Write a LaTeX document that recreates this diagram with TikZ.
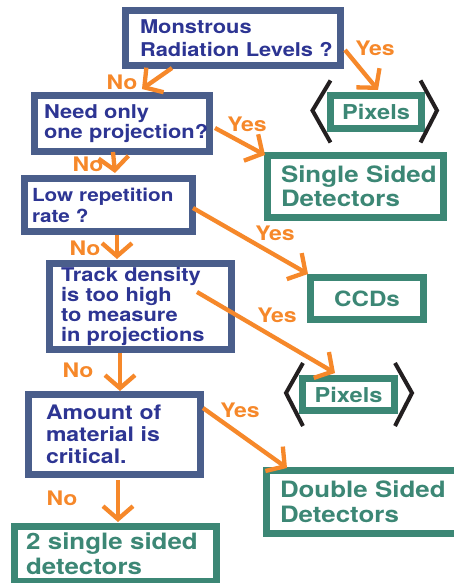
\documentclass[tikz,border=0pt]{standalone}
\usepackage{fontspec}
\usepackage{xcolor}
\usepackage{tikz}
\usetikzlibrary{arrows.meta,calc}
\newfontfamily\chartfont{TeX Gyre Heros}[FakeStretch=1.15]
\definecolor{qblue}{HTML}{4A5E8B}
\definecolor{qtext}{HTML}{2D3593}
\definecolor{agreen}{HTML}{3C8775}
\definecolor{yorange}{HTML}{F6882A}
\definecolor{brk}{HTML}{231F20}

\begin{document}
\lefthyphenmin=62 \righthyphenmin=62 \hyphenpenalty=10000
\begin{tikzpicture}[x=1pt, y=-1pt,
  question/.style={rectangle, draw=qblue, line width=7pt, fill=white, inner sep=0pt, outer sep=0pt, align=left, text=qtext},
  answer/.style={rectangle, draw=agreen, line width=7pt, fill=white, inner sep=0pt, outer sep=0pt, align=left, text=agreen},
  flow/.style={draw=yorange, line width=4.3pt, -{Straight Barb[length=13pt, width=30pt]}},
  reply/.style={text=yorange, inner sep=0pt, font=\chartfont\bfseries\fontsize{20}{22}\selectfont},
  bracket/.style={draw=brk, line width=4pt, line join=miter}]
\fill[white] (0,0) rectangle (453,583);
\useasboundingbox (0,0) rectangle (453,583);
% questions
\node[question, minimum width=215pt, minimum height=55pt, text width=186pt, font=\chartfont\bfseries\fontsize{19}{22.7}\selectfont] (mon) at (233,38) {Monstrous\\Radiation~Levels~?};
\node[question, minimum width=175pt, minimum height=56pt, text width=156pt, font=\chartfont\bfseries\fontsize{19}{19.5}\selectfont] (need) at (122,123.5) {Need~only\\one~projection?};
\node[question, minimum width=168pt, minimum height=53pt, text width=153pt, font=\chartfont\bfseries\fontsize{18}{21}\selectfont] (lowrep) at (108.5,205) {Low~repetition\\rate~?};
\node[question, minimum width=182pt, minimum height=86pt, text width=159pt, font=\chartfont\bfseries\fontsize{19}{20}\selectfont] (track) at (140.5,306.5) {Track~density\\is~too~high\\to~measure\\in~projections};
\node[question, minimum width=172pt, minimum height=80pt, text width=137pt, font=\chartfont\bfseries\fontsize{20}{22}\selectfont] (amount) at (114.5,434.5) {Amount~of\\material~is\\critical.};
% answers
\node[answer, minimum width=91pt, minimum height=33pt, align=center, font=\chartfont\bfseries\fontsize{20.5}{22}\selectfont] (pixA) at (376,112) {Pixels};
\node[answer, minimum width=176pt, minimum height=62pt, text width=149pt, font=\chartfont\bfseries\fontsize{22.5}{24}\selectfont] (single) at (355.5,186.5) {Single~Sided\\Detectors};
\node[answer, minimum width=113pt, minimum height=42pt, align=center, font=\chartfont\bfseries\fontsize{21}{22}\selectfont] (ccd) at (367,298.5) {CCDs};
\node[answer, minimum width=92pt, minimum height=32pt, align=center, font=\chartfont\bfseries\fontsize{20.5}{22}\selectfont] (pixB) at (348.5,394.5) {Pixels};
\node[answer, minimum width=213.5pt, minimum height=63pt, text width=186.5pt, font=\chartfont\bfseries\fontsize{22.5}{25}\selectfont] (double) at (373.25,502) {Double~Sided\\Detectors};
\node[answer, minimum width=202pt, minimum height=55pt, text width=179pt, font=\chartfont\bfseries\fontsize{22.5}{25}\selectfont] (twoss) at (115.5,554) {2~single~sided\\detectors};
% brackets round the pixels boxes
\draw[bracket] ($(pixA.north west)+(0,-15)$) -- ($(pixA.west)+(-18,-1.5)$) -- ($(pixA.south west)+(0,14)$);
\draw[bracket] ($(pixA.north east)+(-1,-15)$) -- ($(pixA.east)+(15.5,-1.5)$) -- ($(pixA.south east)+(-1,14)$);
\draw[bracket] ($(pixB.north west)+(0.5,-15.5)$) -- ($(pixB.west)+(-16.5,-1.5)$) -- ($(pixB.south west)+(0.5,15.5)$);
\draw[bracket] ($(pixB.north east)+(0.5,-15.5)$) -- ($(pixB.east)+(17.5,-1.5)$) -- ($(pixB.south east)+(0.5,15.5)$);
% yes / no labels
\node[reply] (n1) at (122,82) {No};
\node[reply] (y1) at (375,48) {Yes};
\node[reply] (y2) at (247,124) {Yes};
\node[reply] (n2) at (88,164) {No};
\node[reply] (y3) at (275,233) {Yes};
\node[reply] (n3) at (85,248) {No};
\node[reply] (y4) at (277,315) {Yes};
\node[reply] (n4) at (78,370) {No};
\node[reply] (y5) at (240,410) {Yes};
\node[reply] (n5) at (62,498) {No};
% arrows
\draw[flow] ($(mon.south west)+(46.5,2.5)$) -- ($(need.north west)+(107.5,-6.5)$);
\draw[flow] ($(mon.north east)+(4.5,39.5)$) -- ($(pixA.north west)+(47.5,-5.5)$);
\draw[flow] ($(need.north east)+(5.5,32.5)$) -- ($(single.north west)+(-2.5,-0.5)$);
\draw[flow] ($(need.south west)+(78.5,0.5)$) -- ($(lowrep.north west)+(90.5,-5.5)$);
\draw[flow] ($(lowrep.north east)+(0.5,29.5)$) -- ($(ccd.north west)+(-2.5,-3.5)$);
\draw[flow] ($(lowrep.south west)+(92.5,3.5)$) -- ($(track.north west)+(67.5,-4.5)$);
\draw[flow] ($(track.north east)+(-34.5,28.5)$) -- ($(pixB.north west)+(32.5,-5.5)$);
\draw[flow] ($(track.south west)+(70.5,3.5)$) -- ($(amount.north west)+(91.5,-3.5)$);
\draw[flow] ($(amount.north east)+(2.5,13.5)$) -- ($(double.north west)+(20.5,-2.5)$);
\draw[flow] ($(amount.south west)+(89.5,5.5)$) -- ($(twoss.north west)+(103.5,-4.5)$);
\end{tikzpicture}
\end{document}
